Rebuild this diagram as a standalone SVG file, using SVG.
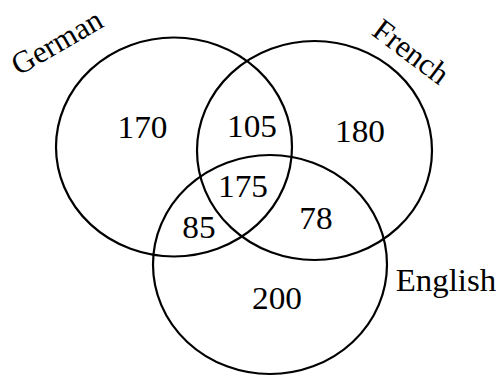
<svg xmlns="http://www.w3.org/2000/svg" width="501" height="376" viewBox="0 0 501 376">
<style>
.set{fill:none;stroke:#000;stroke-width:2.2}
text{font-family:"Liberation Serif","Times New Roman",serif;font-size:31px;fill:#000;text-anchor:middle}
</style>
<rect width="501" height="376" fill="#fff"/>
<g id="german">
<ellipse class="set" cx="174" cy="147" rx="118" ry="109.5"/>
<text transform="translate(62,51) rotate(-30)">German</text>
</g>
<g id="french">
<ellipse class="set" cx="314.5" cy="150.5" rx="117.5" ry="109.5"/>
<text transform="translate(405,60) rotate(37)">French</text>
</g>
<g id="english">
<ellipse class="set" cx="270" cy="264.5" rx="117" ry="109.5"/>
<text transform="translate(446,291) scale(1.06,1)">English</text>
</g>
<g id="regions">
<text transform="translate(142.5,138) scale(1.075,1)">170</text>
<text transform="translate(252,137) scale(1.075,1)">105</text>
<text transform="translate(360,142) scale(1.075,1)">180</text>
<text transform="translate(243,197) scale(1.075,1)">175</text>
<text transform="translate(199,238) scale(1.075,1)">85</text>
<text transform="translate(316,229) scale(1.075,1)">78</text>
<text transform="translate(277,309) scale(1.075,1)">200</text>
</g>
<g id="connectors"></g>
</svg>
